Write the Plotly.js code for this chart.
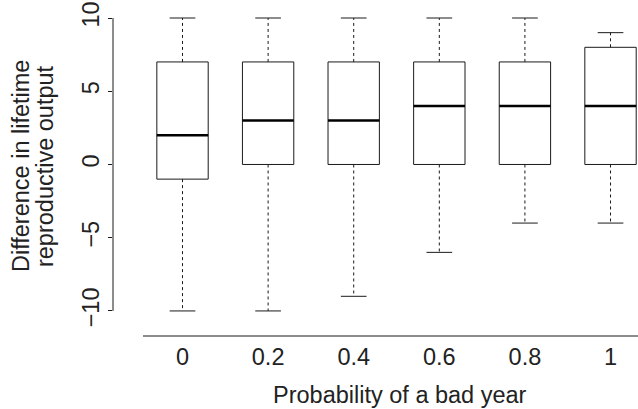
<!DOCTYPE html>
<html>
<head>
<meta charset="utf-8">
<script src="https://cdn.plot.ly/plotly-3.0.1.min.js"></script>
<style>html,body{margin:0;padding:0;background:#fff;}#chart{width:638px;height:409px;}</style>
</head>
<body>
<div id="chart"></div>
<script>
// Data
const categories = ['0', '0.2', '0.4', '0.6', '0.8', '1'];
const lowerWhisker = [-10, -10, -9, -6, -4, -4];
const q1 = [-1, 0, 0, 0, 0, 0];
const median = [2, 3, 3, 4, 4, 4];
const q3 = [7, 7, 7, 7, 7, 8];
const upperWhisker = [10, 10, 10, 10, 10, 9];
const yTickVals = [-10, -5, 0, 5, 10];
const yTickLabels = ['\u221210', '\u22125', '0', '5', '10'];
const xTitle = 'Probability of a bad year';
const yTitleLines = ['Difference in lifetime', 'reproductive output'];

const boxHalf = 0.3, capHalf = 0.15;
const lineColor = '#1a1a1a';
const boxX = [], boxY = [], medX = [], medY = [], whX = [], whY = [], capX = [], capY = [];
categories.forEach((c, i) => {
  boxX.push(i - boxHalf, i + boxHalf, i + boxHalf, i - boxHalf, i - boxHalf, null);
  boxY.push(q1[i], q1[i], q3[i], q3[i], q1[i], null);
  medX.push(i - boxHalf, i + boxHalf, null);
  medY.push(median[i], median[i], null);
  whX.push(i, i, null, i, i, null);
  whY.push(q3[i], upperWhisker[i], null, q1[i], lowerWhisker[i], null);
  capX.push(i - capHalf, i + capHalf, null, i - capHalf, i + capHalf, null);
  capY.push(upperWhisker[i], upperWhisker[i], null, lowerWhisker[i], lowerWhisker[i], null);
});

const traces = [
  {type: 'scatter', mode: 'lines', x: whX, y: whY, line: {color: lineColor, width: 1, dash: '3px,3px'}, hoverinfo: 'skip'},
  {type: 'scatter', mode: 'lines', x: capX, y: capY, line: {color: lineColor, width: 1}, hoverinfo: 'skip'},
  {type: 'scatter', mode: 'lines', x: boxX, y: boxY, line: {color: lineColor, width: 1}, hoverinfo: 'skip'},
  {type: 'scatter', mode: 'lines', x: medX, y: medY, line: {color: '#000', width: 2.5}, hoverinfo: 'skip'}
];

const font = {family: 'Liberation Sans, Arial, Helvetica, sans-serif', size: 23.5, color: '#222'};
const layout = {
  width: 638, height: 409,
  margin: {l: 113, r: 0, t: 6, b: 73},
  paper_bgcolor: '#fff', plot_bgcolor: '#fff',
  showlegend: false,
  font: font,
  xaxis: {
    range: [-0.812, 5.321],
    tickmode: 'array', tickvals: categories.map((c, i) => i), ticktext: categories,
    showgrid: false, zeroline: false, showline: false, ticks: '',
    ticklabelstandoff: 4,
    tickfont: font
  },
  yaxis: {
    range: [-11.71, 10.82],
    tickmode: 'array', tickvals: yTickVals, ticktext: yTickLabels,
    tickangle: -90,
    showgrid: false, zeroline: false, showline: false,
    ticks: 'outside', ticklen: 4, tickcolor: lineColor, tickwidth: 1,
    ticklabelstandoff: 0,
    tickfont: font
  },
  annotations: [
    {text: xTitle, xref: 'paper', yref: 'paper', x: (400 - 113) / 525, y: -0.179,
     xanchor: 'center', yanchor: 'middle', showarrow: false, font: font},
    {text: yTitleLines[0], xref: 'paper', yref: 'paper', x: (21 - 113) / 525, y: 0.515,
     xanchor: 'center', yanchor: 'middle', textangle: -90, showarrow: false, font: font},
    {text: yTitleLines[1], xref: 'paper', yref: 'paper', x: (45 - 113) / 525, y: 0.515,
     xanchor: 'center', yanchor: 'middle', textangle: -90, showarrow: false, font: font}
  ],
  shapes: [
    {type: 'line', xref: 'paper', yref: 'y', x0: 0, x1: 0, y0: -10, y1: 10, line: {color: lineColor, width: 1}},
    {type: 'line', xref: 'paper', yref: 'paper', x0: 30 / 525, x1: 1, y0: 0, y1: 0, line: {color: lineColor, width: 1}}
  ]
};

Plotly.newPlot('chart', traces, layout, {displayModeBar: false, staticPlot: true});
</script>
</body>
</html>
